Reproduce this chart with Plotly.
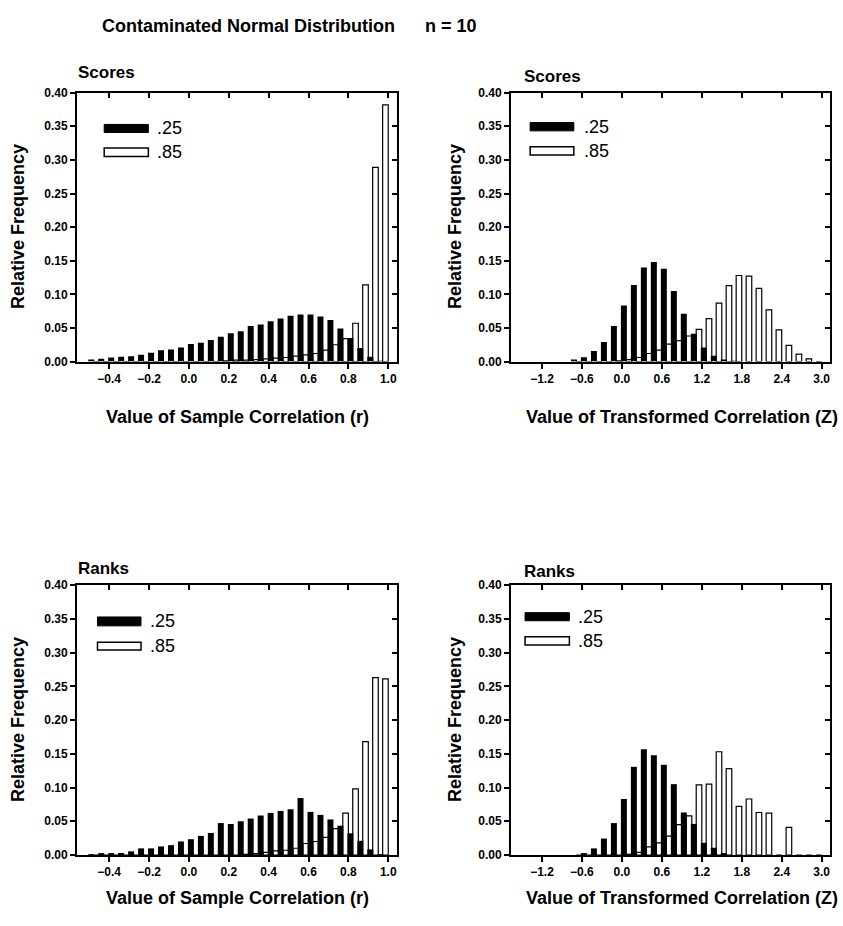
import plotly.graph_objects as go

# ---------------- data ----------------
r_bins = [-0.50, -0.45, -0.40, -0.35, -0.30, -0.25, -0.20, -0.15, -0.10, -0.05,
          0.00, 0.05, 0.10, 0.15, 0.20, 0.25, 0.30, 0.35, 0.40, 0.45,
          0.50, 0.55, 0.60, 0.65, 0.70, 0.75, 0.80, 0.85, 0.90, 0.95]
z_bins = [-0.75, -0.60, -0.45, -0.30, -0.15, 0.00, 0.15, 0.30, 0.45, 0.60,
          0.75, 0.90, 1.05, 1.20, 1.35, 1.50, 1.65, 1.80, 1.95, 2.10,
          2.25, 2.40, 2.55, 2.70, 2.85]

scores_r_25 = [0.003, 0.004, 0.006, 0.007, 0.008, 0.010, 0.013, 0.017, 0.018, 0.021,
               0.026, 0.028, 0.032, 0.037, 0.042, 0.045, 0.053, 0.055, 0.060, 0.064,
               0.068, 0.070, 0.070, 0.067, 0.062, 0.049, 0.035, 0.020, 0.007, 0.001]
scores_r_85 = [0, 0, 0, 0, 0, 0, 0, 0, 0, 0,
               0, 0, 0, 0.001, 0.002, 0.002, 0.003, 0.004, 0.005, 0.006,
               0.008, 0.010, 0.012, 0.017, 0.025, 0.034, 0.057, 0.114, 0.289, 0.382]

scores_z_25 = [0.003, 0.0063, 0.0156, 0.029, 0.053, 0.0835, 0.114, 0.140, 0.148, 0.138,
               0.105, 0.071, 0.0415, 0.021, 0.0088, 0.003, 0.001, 0, 0, 0,
               0, 0, 0, 0, 0]
scores_z_85 = [0, 0, 0, 0, 0.001, 0.003, 0.006, 0.012, 0.017, 0.026,
               0.031, 0.038, 0.048, 0.064, 0.087, 0.113, 0.128, 0.127, 0.109, 0.077,
               0.047, 0.024, 0.011, 0.004, 0]

ranks_r_25 = [0.0005, 0.0015, 0.002, 0.003, 0.0054, 0.0098, 0.0098, 0.0127, 0.0146, 0.020,
              0.0234, 0.0283, 0.0327, 0.0473, 0.0459, 0.050, 0.054, 0.0585, 0.0624, 0.0654,
              0.0678, 0.0844, 0.0639, 0.0595, 0.0527, 0.0434, 0.0322, 0.021, 0.0083, 0.001]
ranks_r_85 = [0, 0, 0, 0, 0, 0, 0, 0, 0, 0,
              0, 0, 0, 0, 0, 0.001, 0.002, 0.004, 0.006, 0.007,
              0.010, 0.017, 0.020, 0.026, 0.039, 0.062, 0.098, 0.168, 0.263, 0.261]

ranks_z_25 = [0, 0.002, 0.0098, 0.0244, 0.0473, 0.083, 0.1307, 0.1566, 0.148, 0.1337,
              0.105, 0.063, 0.046, 0.018, 0.0107, 0.002, 0, 0, 0, 0,
              0, 0, 0, 0, 0]
ranks_z_85 = [0, 0, 0, 0, 0, 0.001, 0.004, 0.012, 0.018, 0.028,
              0.045, 0.058, 0.104, 0.105, 0.153, 0.128, 0.072, 0.083, 0.063, 0.062,
              0, 0.041, 0, 0, 0]

series_names = [".25", ".85"]
r_ticks = [-0.4, -0.2, 0.0, 0.2, 0.4, 0.6, 0.8, 1.0]
z_ticks = [-1.2, -0.6, 0.0, 0.6, 1.2, 1.8, 2.4, 3.0]
y_ticks = [0.00, 0.05, 0.10, 0.15, 0.20, 0.25, 0.30, 0.35, 0.40]

main_title = "Contaminated Normal Distribution      n = 10"
panel_titles = ["Scores", "Scores", "Ranks", "Ranks"]
x_titles = ["Value of Sample Correlation (r)", "Value of Transformed Correlation (Z)",
            "Value of Sample Correlation (r)", "Value of Transformed Correlation (Z)"]
y_title = "Relative Frequency"

# ---------------- layout geometry (pixels) ----------------
W, H = 843, 926
FONT = "Liberation Sans, Arial, sans-serif"
TITLE_SIZE = 18

panels = [
    dict(bins=r_bins, w=0.05, a=scores_r_25, b=scores_r_85, ticks=r_ticks,
         xr=[-0.5615, 1.044], px=(77, 397), py=(87, 360)),
    dict(bins=z_bins, w=0.15, a=scores_z_25, b=scores_z_85, ticks=z_ticks,
         xr=[-1.665, 3.125], px=(511, 830), py=(87, 360)),
    dict(bins=r_bins, w=0.05, a=ranks_r_25, b=ranks_r_85, ticks=r_ticks,
         xr=[-0.5615, 1.044], px=(77, 397), py=(587, 861)),
    dict(bins=z_bins, w=0.15, a=ranks_z_25, b=ranks_z_85, ticks=z_ticks,
         xr=[-1.665, 3.125], px=(511, 830), py=(587, 861)),
]
legend_geo = [
    dict(x0=0.085, x1=0.223, yb=(0.882, 0.852), yw=(0.794, 0.763), tx=0.245),
    dict(x0=0.060, x1=0.197, yb=(0.889, 0.858), yw=(0.799, 0.768), tx=0.222),
    dict(x0=0.064, x1=0.200, yb=(0.882, 0.849), yw=(0.788, 0.760), tx=0.222),
    dict(x0=0.044, x1=0.183, yb=(0.898, 0.868), yw=(0.809, 0.778), tx=0.205),
]
title_pos = [(76, 67), (522, 71), (76, 570), (522, 573)]
ylab_x = [18, 455, 18, 455]
xlab_cx = [238, 682, 238, 682]
xlab_y = [416, 416, 905, 905]

fig = go.Figure()
layout = dict(
    width=W, height=H, margin=dict(l=0, r=0, t=0, b=0),
    plot_bgcolor="white", paper_bgcolor="white", showlegend=False,
    barmode="overlay", font=dict(family=FONT, color="black"),
)
shapes = []
annotations = []

tickfont = dict(family=FONT, size=12, color="black", weight="bold")
titlefont = dict(family=FONT, size=TITLE_SIZE, color="black", weight="bold")
paneltitlefont = dict(family=FONT, size=17, color="black", weight="bold")

for i, p in enumerate(panels):
    n = i + 1
    xa = "x" if n == 1 else f"x{n}"
    ya = "y" if n == 1 else f"y{n}"
    xo = f"x{n + 4}"
    yo = f"y{n + 4}"
    w = p["w"]
    # white (.85) bars drawn first, black (.25) on top
    fig.add_trace(go.Bar(
        x=p["bins"], y=p["b"], name=series_names[1], xaxis=xa, yaxis=ya,
        offset=0.44 * w, width=0.56 * w,
        marker=dict(color="white", line=dict(color="black", width=1.2)),
    ))
    fig.add_trace(go.Bar(
        x=p["bins"], y=p["a"], name=series_names[0], xaxis=xa, yaxis=ya,
        offset=-0.10 * w, width=0.60 * w,
        marker=dict(color="black", line=dict(color="black", width=0)),
    ))
    # invisible traces so the inner-tick overlay axes get drawn
    fig.add_trace(go.Scatter(x=[], y=[], xaxis=xo, yaxis=ya,
                             showlegend=False, hoverinfo="skip"))
    fig.add_trace(go.Scatter(x=[], y=[], xaxis=xa, yaxis=yo,
                             showlegend=False, hoverinfo="skip"))

    xd = [p["px"][0] / W, p["px"][1] / W]
    yd = [1 - p["py"][1] / H, 1 - p["py"][0] / H]
    xkey = "xaxis" if n == 1 else f"xaxis{n}"
    ykey = "yaxis" if n == 1 else f"yaxis{n}"
    layout[xkey] = dict(
        domain=xd, anchor=ya, range=p["xr"], tickvals=p["ticks"], tickformat=".1f",
        ticks="outside", ticklen=5, tickwidth=1.5, tickcolor="black",
        showline=True, linecolor="black", linewidth=2, mirror=True,
        showgrid=False, zeroline=False, tickfont=tickfont, fixedrange=True,
    )
    layout[ykey] = dict(
        domain=yd, anchor=xa, range=[0, 0.40], tickvals=y_ticks, tickformat=".2f",
        ticks="outside", ticklen=5, tickwidth=1.5, tickcolor="black",
        showline=True, linecolor="black", linewidth=2, mirror=True,
        showgrid=False, zeroline=False, tickfont=tickfont, fixedrange=True,
    )
    layout[f"xaxis{n + 4}"] = dict(
        overlaying=xa, anchor=ya, side="top", range=p["xr"], tickvals=p["ticks"],
        ticks="inside", ticklen=5, tickwidth=1.5, tickcolor="black",
        showticklabels=False, showline=False, showgrid=False, zeroline=False,
    )
    layout[f"yaxis{n + 4}"] = dict(
        overlaying=ya, anchor=xa, side="right", range=[0, 0.40], tickvals=y_ticks,
        ticks="inside", ticklen=5, tickwidth=1.5, tickcolor="black",
        showticklabels=False, showline=False, showgrid=False, zeroline=False,
    )

    # legend boxes (layout decoration in axis-domain coordinates)
    lg = legend_geo[i]
    xref = f"{xa} domain"
    yref = f"{ya} domain"
    shapes.append(dict(type="rect", xref=xref, yref=yref, x0=lg["x0"], x1=lg["x1"],
                       y0=lg["yb"][1], y1=lg["yb"][0], fillcolor="black",
                       line=dict(color="black", width=1)))
    shapes.append(dict(type="rect", xref=xref, yref=yref, x0=lg["x0"], x1=lg["x1"],
                       y0=lg["yw"][1], y1=lg["yw"][0], fillcolor="white",
                       line=dict(color="black", width=1.5)))
    for txt, yy in ((series_names[0], lg["yb"]), (series_names[1], lg["yw"])):
        annotations.append(dict(xref=xref, yref=yref, x=lg["tx"], y=(yy[0] + yy[1]) / 2,
                                text=txt, showarrow=False, xanchor="left", yanchor="middle",
                                font=dict(family=FONT, size=18, color="black")))

    # panel title
    tx, ty = title_pos[i]
    annotations.append(dict(xref="paper", yref="paper", x=tx / W, y=1 - ty / H,
                            text=panel_titles[i], showarrow=False, xanchor="left",
                            yanchor="middle", font=paneltitlefont))
    # axis titles
    annotations.append(dict(xref="paper", yref="paper", x=xlab_cx[i] / W,
                            y=1 - xlab_y[i] / H, text=x_titles[i], showarrow=False,
                            xanchor="center", yanchor="middle", font=titlefont))
    annotations.append(dict(xref="paper", yref="paper", x=ylab_x[i] / W,
                            y=1 - (p["py"][0] + p["py"][1]) / 2 / H, text=y_title,
                            showarrow=False, textangle=-90, xanchor="center",
                            yanchor="middle", font=titlefont))

annotations.append(dict(xref="paper", yref="paper", x=100 / W, y=1 - 19 / H,
                        text=main_title.replace("  ", "&nbsp;&nbsp;"), showarrow=False,
                        xanchor="left", yanchor="middle", font=titlefont))

layout["shapes"] = shapes
layout["annotations"] = annotations
fig.update_layout(**layout)
fig.write_html("out.html")
